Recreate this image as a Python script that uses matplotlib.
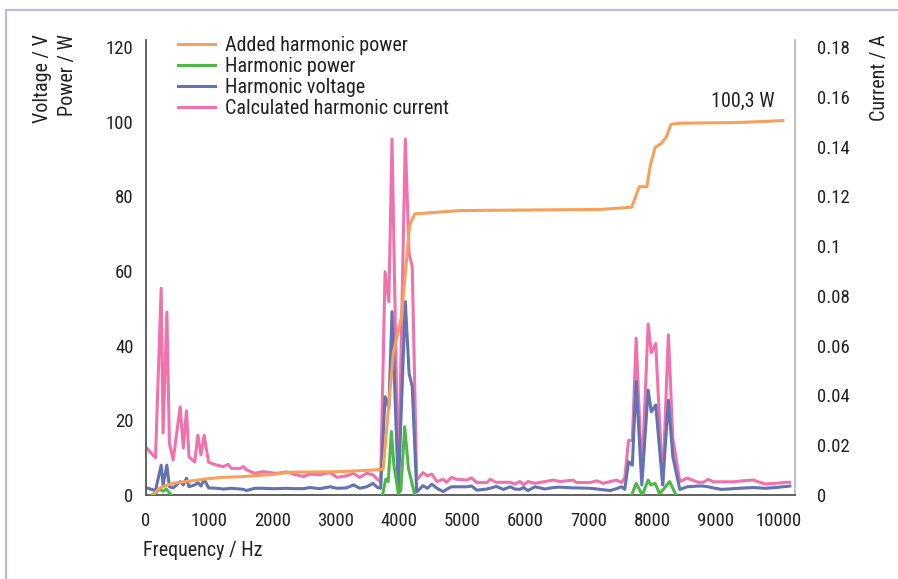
import numpy as np
import matplotlib
matplotlib.use("Agg")
import matplotlib.pyplot as plt
from matplotlib.lines import Line2D

plt.rcParams['font.family'] = ['Roboto Condensed', 'DejaVu Sans']

# Harmonic spectrum: frequencies shared by voltage and current traces (Hz)
freq = [10, 150, 240, 270, 330, 370, 430, 540, 590, 640, 680, 770, 820, 870, 920, 990,
        1120, 1220, 1300, 1350, 1490, 1540, 1590, 1720, 1850, 1960, 2070, 2220, 2330, 2490,
        2590, 2750, 2910, 3020, 3170, 3280, 3380, 3490, 3590, 3660,
        3710, 3780, 3840, 3890, 3990, 4100, 4160, 4210, 4280,
        4380, 4450, 4520, 4600, 4700, 4750, 4830, 4910, 5070, 5150, 5230, 5390, 5440, 5540,
        5650, 5760, 5830, 5910, 5970, 6040, 6150, 6310, 6440, 6550, 6650, 6750, 6810, 7020,
        7130, 7230, 7340, 7440, 7520, 7570,
        7630, 7690, 7750, 7840, 7940, 7990, 8060, 8170, 8260, 8330, 8440,
        8560, 8730, 8810, 8890, 8970, 9100, 9290, 9390, 9600, 9790, 9960, 10130, 10180]

# Harmonic voltage (V)
voltage = [1.9, 1.2, 8.0, 2.7, 8.0, 2.2, 1.9, 3.6, 2.7, 4.5, 2.2, 2.7, 3.3, 2.4, 4.2, 1.9,
           1.8, 1.6, 1.7, 1.8, 1.6, 1.5, 1.2, 1.8, 1.8, 1.7, 1.7, 1.8, 1.7, 1.7,
           2.0, 1.7, 2.2, 1.8, 1.9, 2.7, 1.8, 2.2, 3.1, 2.0,
           1.8, 26.3, 23.2, 49.1, 1.3, 51.8, 32.6, 29.0, 0.8,
           2.5, 1.8, 2.9, 1.8, 0.9, 1.5, 2.2, 2.2, 2.2, 2.4, 1.3, 1.6, 1.8, 2.3,
           1.5, 2.2, 1.6, 1.5, 2.0, 1.2, 2.2, 1.6, 2.0, 2.1, 2.0, 1.9, 1.9, 1.8,
           1.6, 1.4, 1.2, 1.7, 2.2, 1.5,
           8.9, 8.0, 30.4, 2.7, 28.1, 22.3, 24.1, 2.7, 25.4, 10.3, 1.5,
           2.2, 2.4, 2.4, 2.2, 1.9, 1.5, 1.7, 1.8, 2.0, 1.8, 2.0, 2.3, 2.4]

# Calculated harmonic current (A)
current = [0.0189, 0.0149, 0.0831, 0.0249, 0.0735, 0.0209, 0.0141, 0.0354, 0.0189, 0.0338,
           0.0153, 0.0132, 0.0240, 0.0161, 0.0240, 0.0131,
           0.0120, 0.0114, 0.0123, 0.0107, 0.0107, 0.0114, 0.0101, 0.0087, 0.0094, 0.0090,
           0.0087, 0.0093, 0.0084, 0.0074, 0.0084, 0.0081, 0.0090, 0.0071, 0.0077, 0.0087,
           0.0071, 0.0087, 0.0081, 0.0063,
           0.0053, 0.0897, 0.0777, 0.1430, 0.0020, 0.1430, 0.0970, 0.0918, 0.0060,
           0.0090, 0.0077, 0.0084, 0.0054, 0.0063, 0.0051, 0.0071, 0.0063, 0.0060, 0.0069,
           0.0050, 0.0050, 0.0063, 0.0051, 0.0051, 0.0051, 0.0044, 0.0054, 0.0041, 0.0054,
           0.0047, 0.0054, 0.0060, 0.0054, 0.0057, 0.0060, 0.0050, 0.0050, 0.0057, 0.0047,
           0.0054, 0.0060, 0.0050, 0.0068,
           0.0219, 0.0219, 0.0630, 0.0074, 0.0687, 0.0572, 0.0609, 0.0041, 0.0644, 0.0228, 0.0054,
           0.0068, 0.0051, 0.0051, 0.0063, 0.0053, 0.0053, 0.0053, 0.0056, 0.0060, 0.0044,
           0.0047, 0.0051, 0.0051]

# Harmonic power (W), only the three bands where it is non-zero
power_freq = [90, 220, 270, 320, 400, 2000,
              3740, 3790, 3830, 3880, 3920, 3990, 4030, 4090, 4150, 4250, 6000,
              7680, 7750, 7850, 7940, 7980, 8050, 8120, 8180, 8280, 8380]
power = [0, 1.5, 1.0, 1.6, 0, np.nan,
         0, 4.2, 3.6, 17.0, 8.0, 0.4, 1.3, 18.3, 7.1, 0, np.nan,
         0, 3.1, 0, 4.0, 2.7, 3.1, 0.4, 1.5, 3.6, 0]

# Added (cumulative) harmonic power (W)
added_freq = [110, 220, 410, 700, 900, 1170, 1490, 2010, 2280, 3070, 3590, 3750, 3910,
              4040, 4120, 4170, 4250, 4960, 7180, 7680, 7800, 7920, 7970, 8050, 8150,
              8230, 8300, 8440, 9390, 10070]
added_power = [0, 1.9, 3.1, 3.75, 4.2, 4.7, 4.9, 5.5, 6.1, 6.25, 6.7, 6.9, 38.0,
               47.8, 63.0, 72.3, 75.3, 76.2, 76.5, 77.1, 82.6, 82.6, 88.0, 93.1, 94.2,
               96.0, 99.3, 99.6, 99.8, 100.3]

x_ticks = [0, 1000, 2000, 3000, 4000, 5000, 6000, 7000, 8000, 9000, 10000]
y_ticks = [0, 20, 40, 60, 80, 100, 120]
a_ticks = [0, 0.02, 0.04, 0.06, 0.08, 0.1, 0.12, 0.14, 0.16, 0.18]

c_orange = '#f7a05a'
c_green = '#4cb848'
c_blue = '#6272b2'
c_pink = '#f071ab'
lw = 2.2
txt = '#222222'

fig = plt.figure(figsize=(8.98, 5.79), dpi=100)
ax = fig.add_axes([0.16258, 0.14508, 0.72272, 0.78653])
ax2 = ax.twinx()
ax.set_zorder(2)
ax2.set_zorder(1)
ax.patch.set_visible(False)

ax.set_xlim(0, 10262)
ax.set_ylim(0, 122)
ax2.set_ylim(0, 122 * 0.18 / 120)

ax2.plot(freq, current, color=c_pink, lw=lw)
ax.plot(freq, voltage, color=c_blue, lw=lw, zorder=2)
ax.plot(power_freq, power, color=c_green, lw=lw, zorder=3)
ax.plot(added_freq, added_power, color=c_orange, lw=lw, zorder=4)

total = added_power[-1]
ax.annotate(f"{total:.1f} W".replace('.', ','), xy=(added_freq[-1], total),
            xytext=(-6, 14), textcoords='offset points', ha='right', va='center',
            fontsize=14.5, color=txt)

ax.set_xticks(x_ticks)
ax.set_yticks(y_ticks)
ax2.set_yticks(a_ticks)
ax2.set_yticklabels([f"{v:g}" for v in a_ticks])

ax.tick_params(axis='x', length=0, pad=12, labelsize=13.5, labelcolor=txt)
ax.tick_params(axis='y', length=0, pad=9, labelsize=13.5, labelcolor=txt)
ax2.tick_params(axis='y', length=0, pad=16, labelsize=13.5, labelcolor=txt)

for s in ['top', 'right']:
    ax.spines[s].set_visible(False)
for s in ['left', 'bottom']:
    ax.spines[s].set_color('#555555')
    ax.spines[s].set_linewidth(1.3)
for s in ['top', 'left', 'bottom']:
    ax2.spines[s].set_visible(False)
ax2.spines['right'].set_color('#b5b5b5')
ax2.spines['right'].set_linewidth(1.2)

handles = [Line2D([], [], color=c_orange, lw=lw),
           Line2D([], [], color=c_green, lw=lw),
           Line2D([], [], color=c_blue, lw=lw),
           Line2D([], [], color=c_pink, lw=lw)]
labels = ['Added harmonic power', 'Harmonic power', 'Harmonic voltage',
          'Calculated harmonic current']
leg = fig.legend(handles, labels, loc='upper left',
                 bbox_to_anchor=(178 / 898, 1 - 36 / 579), frameon=False,
                 fontsize=14.5, handlelength=1.84, handletextpad=0.5,
                 labelspacing=0.1, borderpad=0, borderaxespad=0)
for t in leg.get_texts():
    t.set_color(txt)

fig.text(42 / 898, 1 - 34 / 579, 'Voltage / V', rotation=90, ha='center', va='top',
         fontsize=14.5, color=txt)
fig.text(67 / 898, 1 - 34 / 579, 'Power / W', rotation=90, ha='center', va='top',
         fontsize=14.5, color=txt)
fig.text(879 / 898, 1 - 34 / 579, 'Current / A', rotation=90, ha='center', va='top',
         fontsize=14.5, color=txt)
fig.text(143 / 898, 1 - 551 / 579, 'Frequency / Hz', ha='left', va='center',
         fontsize=14.5, color=txt)

# thin panel frame on top and left
frame_col = '#b7bce0'
fig.add_artist(Line2D([6 / 898, 6 / 898], [0, 1 - 10 / 579], transform=fig.transFigure,
                      color=frame_col, lw=1.6))
fig.add_artist(Line2D([6 / 898, 1], [1 - 10 / 579, 1 - 10 / 579], transform=fig.transFigure,
                      color=frame_col, lw=1.6))

fig.savefig('out.png', dpi=100)
